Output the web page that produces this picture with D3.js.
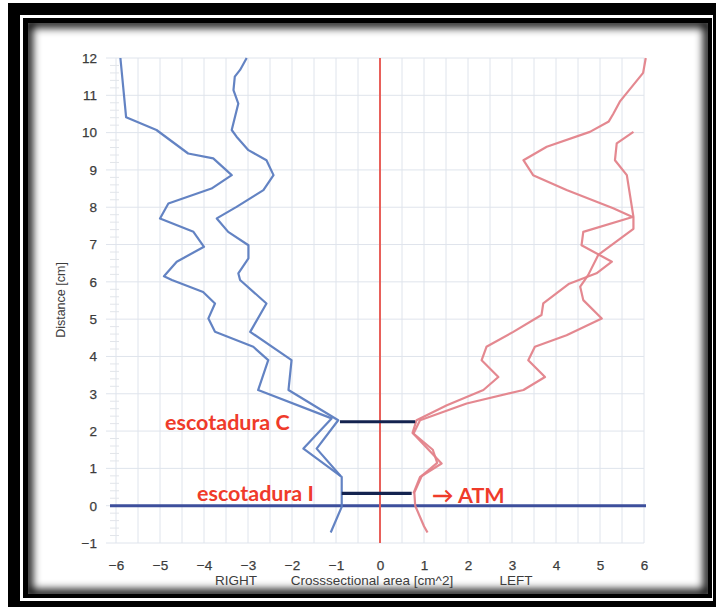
<!DOCTYPE html>
<html>
<head>
<meta charset="utf-8">
<script src="https://cdn.jsdelivr.net/npm/d3@7"></script>
<style>
  html, body { margin: 0; padding: 0; background: #fff; }
  svg { display: block; }
</style>
</head>
<body>
<svg id="chart" width="716" height="607"></svg>
<script>
// Cross-sectional area profiles, [area cm^2, distance cm]
// Right side (negative areas), two measurements
const rightOuter = [[-5.9,12],[-5.77,10.41],[-5.08,10.07],[-4.36,9.44],[-3.79,9.31],[-3.37,8.86],[-3.83,8.5],[-4.81,8.1],[-5.0,7.7],[-4.24,7.34],[-4.0,6.94],[-4.62,6.54],[-4.91,6.15],[-4.73,6.05],[-4.02,5.73],[-3.75,5.42],[-3.9,5.02],[-3.75,4.66],[-2.88,4.26],[-2.54,3.9],[-2.77,3.1],[-1.1,2.34],[-1.74,1.53],[-0.87,0.77],[-0.87,-0.03],[-1.12,-0.72]];
const rightInner = [[-3.03,12],[-3.18,11.68],[-3.3,11.5],[-3.33,11.14],[-3.22,10.78],[-3.37,10.07],[-3.26,9.89],[-2.99,9.53],[-2.58,9.26],[-2.42,8.86],[-2.65,8.46],[-3.26,8.01],[-3.71,7.7],[-3.45,7.34],[-2.99,6.98],[-2.99,6.63],[-3.22,6.23],[-3.18,6.05],[-2.58,5.42],[-2.95,4.66],[-2.01,3.9],[-2.08,3.1],[-0.95,2.29],[-1.44,1.53],[-0.9,0.8]];
// Left side (positive areas), two measurements
const leftOuter = [[6.04,12],[5.98,11.6],[5.45,10.83],[5.3,10.5],[5.2,10.3],[4.77,10.02],[3.79,9.62],[3.26,9.26],[3.48,8.86],[4.24,8.46],[5.3,7.97],[5.74,7.74],[4.62,7.34],[4.58,6.98],[5.27,6.54],[4.92,6.23],[4.3,5.95],[3.71,5.42],[3.67,5.11],[3.03,4.66],[2.42,4.26],[2.31,3.9],[2.69,3.45],[2.35,3.1],[1.52,2.69],[0.83,2.29],[0.74,1.95],[1.2,1.5],[1.3,1.15],[0.95,0.8],[0.78,0.35],[0.8,0],[1.0,-0.55],[1.08,-0.72]];
const leftInner = [[5.76,10.02],[5.38,9.71],[5.34,9.26],[5.61,8.86],[5.76,7.74],[5.76,7.42],[4.96,6.72],[4.73,6.18],[4.55,5.87],[4.62,5.51],[5.04,5.02],[4.24,4.57],[3.52,4.26],[3.37,3.9],[3.75,3.45],[3.26,3.1],[1.97,2.74],[0.91,2.29],[0.76,1.93],[1.4,1.13],[0.91,0.77],[0.76,0.33]];

// Notch markers (distance, area span)
const notchLabels = ["escotadura C", "escotadura I"];
const notchDist = [2.25, 0.33];
const notchFrom = [-0.91, -0.87];
const notchTo = [0.80, 0.72];

// Axis ticks
const xTicks = [-6,-5,-4,-3,-2,-1,0,1,2,3,4,5,6];
const yTicks = [-1,0,1,2,3,4,5,6,7,8,9,10,11,12];

const svg = d3.select("#chart");

// Frame
svg.append("rect").attr("x",0).attr("y",0).attr("width",716).attr("height",607).attr("fill","#fff");
svg.append("rect").attr("x",8).attr("y",3).attr("width",708).attr("height",604).attr("fill","#000");
svg.append("rect").attr("x",20).attr("y",15).attr("width",693).attr("height",586).attr("fill","#fff");
svg.append("rect").attr("x",23).attr("y",18).attr("width",689).attr("height",580).attr("fill","#000");

const panel = {x:28, y:23, w:680, h:571};
const defs = svg.append("defs");
defs.append("clipPath").attr("id","panelClip").append("rect")
  .attr("x",panel.x).attr("y",panel.y).attr("width",panel.w).attr("height",panel.h);
defs.append("filter").attr("id","soft").attr("x","-10%").attr("y","-10%").attr("width","120%").attr("height","120%")
  .append("feGaussianBlur").attr("stdDeviation",4);

svg.append("rect").attr("x",panel.x).attr("y",panel.y).attr("width",panel.w).attr("height",panel.h).attr("fill","#fff");
svg.append("g").attr("clip-path","url(#panelClip)")
  .append("rect").attr("x",panel.x).attr("y",panel.y).attr("width",panel.w).attr("height",panel.h)
  .attr("fill","none").attr("stroke","#000").attr("stroke-width",9).attr("filter","url(#soft)");

// Scales
const x = d3.scaleLinear().domain([-6,6]).range([116,644]);
const y = d3.scaleLinear().domain([-1,12]).range([543,58]);

const g = svg.append("g");

// Grid
const gridColor = "#dfe4ec";
const vGrid = d3.range(-6, 6.01, 0.5);
g.selectAll(".vg").data(vGrid).enter().append("line")
  .attr("x1",d=>x(d)).attr("x2",d=>x(d)).attr("y1",y(12)).attr("y2",y(-1))
  .attr("stroke",gridColor).attr("stroke-width",1);
g.selectAll(".hg").data(yTicks).enter().append("line")
  .attr("x1",106).attr("x2",x(6)).attr("y1",d=>y(d)).attr("y2",d=>y(d))
  .attr("stroke",gridColor).attr("stroke-width",1);
// Minor ticks along the left edge
const minor = d3.range(-1, 12.001, 0.2).filter(v => Math.abs(v - Math.round(v)) > 0.01);
g.selectAll(".mt").data(minor).enter().append("line")
  .attr("x1",110).attr("x2",119).attr("y1",d=>y(d)).attr("y2",d=>y(d))
  .attr("stroke","#e2e5ea").attr("stroke-width",1);

// Axes
const tickFont = "'Liberation Sans', Arial, sans-serif";
const textColor = "#3c3c3c";
const yAxis = g.append("g").attr("transform",`translate(${x(-6)},0)`)
  .call(d3.axisLeft(y).tickValues(yTicks).tickSize(0).tickPadding(19));
const xAxis = g.append("g").attr("transform",`translate(0,${y(-1)})`)
  .call(d3.axisBottom(x).tickValues(xTicks).tickSize(0).tickPadding(17));
[yAxis, xAxis].forEach(a => {
  a.select(".domain").remove();
  a.selectAll("text").attr("font-family",tickFont).attr("font-size",13.5).attr("fill",textColor)
    .attr("stroke",textColor).attr("stroke-width",0.25);
});

// Axis titles
svg.append("text").attr("transform","translate(65,300) rotate(-90)")
  .attr("text-anchor","middle").attr("font-family",tickFont).attr("font-size",12.5).attr("fill",textColor)
  .text("Distance [cm]");
const bottomTitles = [["RIGHT",236],["Crosssectional area [cm^2]",372],["LEFT",516]];
svg.selectAll(".bt").data(bottomTitles).enter().append("text")
  .attr("x",d=>d[1]).attr("y",585).attr("text-anchor","middle")
  .attr("font-family",tickFont).attr("font-size",13.5).attr("fill",textColor)
  .text(d=>d[0]);

// Reference lines
g.append("line").attr("x1",110).attr("x2",646).attr("y1",y(0)).attr("y2",y(0))
  .attr("stroke","#3d4f9c").attr("stroke-width",3);
g.append("line").attr("x1",x(0)).attr("x2",x(0)).attr("y1",y(12)).attr("y2",y(-1))
  .attr("stroke","#e8605a").attr("stroke-width",2);

// Profiles
const line = d3.line().x(d=>x(d[0])).y(d=>y(d[1]));
[[rightOuter,"#5b7cc0"],[rightInner,"#5b7cc0"],[leftOuter,"#e3828a"],[leftInner,"#e3828a"]].forEach(([data,color]) => {
  g.append("path").datum(data).attr("d",line)
    .attr("fill","none").attr("stroke",color).attr("stroke-width",2.2)
    .attr("stroke-linejoin","round").attr("opacity",0.95);
});

// Notch bars
g.selectAll(".notch").data(notchDist).enter().append("line")
  .attr("x1",(d,i)=>x(notchFrom[i])).attr("x2",(d,i)=>x(notchTo[i]))
  .attr("y1",d=>y(d)).attr("y2",d=>y(d))
  .attr("stroke","#14234f").attr("stroke-width",3.2);

// Annotations
const noteFont = "Lato, 'Open Sans', sans-serif";
const noteColor = "#ef3b2a";
const notes = [
  [notchLabels[0], 165, y(notchDist[0]) + 8],
  [notchLabels[1], 197, y(notchDist[1]) + 8],
  ["\u2192 ATM", 432, y(notchDist[1]) + 10]
];
svg.selectAll(".note").data(notes).enter().append("text")
  .attr("x",d=>d[1]).attr("y",d=>d[2])
  .attr("font-family",noteFont).attr("font-size",21.5).attr("font-weight",700)
  .attr("fill",noteColor).text(d=>d[0]);
</script>
</body>
</html>
